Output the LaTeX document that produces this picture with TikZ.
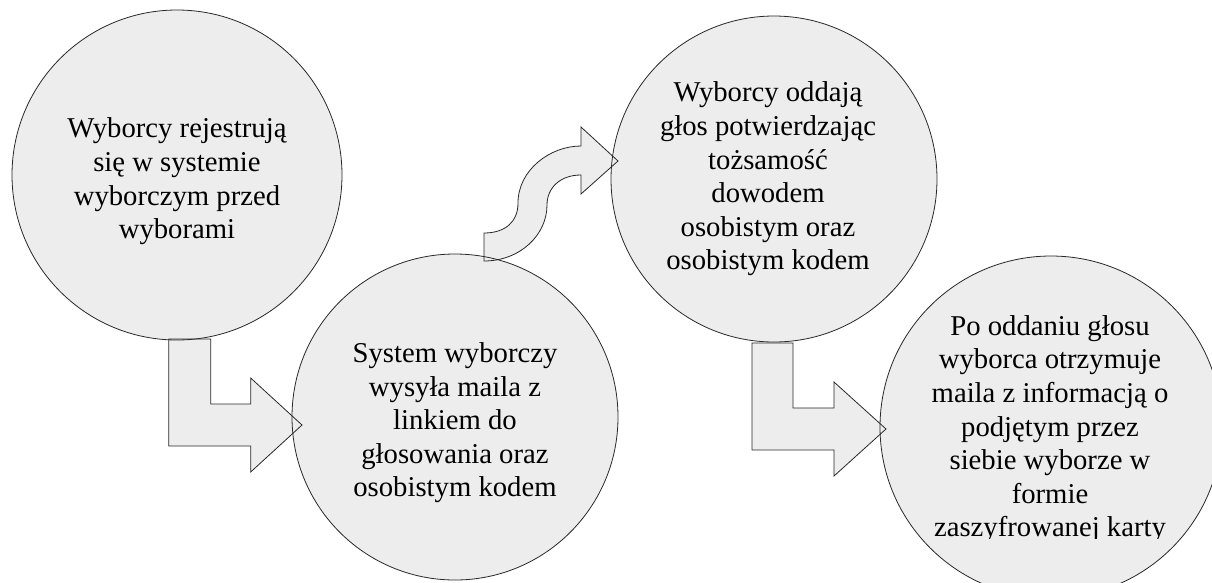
\documentclass[tikz,border=0pt]{standalone}
\usepackage{fontspec}
\setmainfont{Liberation Serif}
\definecolor{fillc}{RGB}{237,237,237}
\definecolor{linec}{RGB}{40,40,40}
\begin{document}
\begin{tikzpicture}[x=1pt,y=-1pt,
  disc/.style={fill=fillc},
  rim/.style={draw=linec,line width=0.8pt},
  blockarrow/.style={fill=fillc,draw=linec,line width=0.8pt,line join=miter},
  circletext/.style={align=center,font=\fontsize{28.7}{33.6}\selectfont,inner sep=0pt,text=black}]
\useasboundingbox (0,0) rectangle (1212,582);
\clip (0,0) rectangle (1212,582);
\coordinate (c1) at (177,175);
\coordinate (c2) at (455,417);
\coordinate (c3) at (774,179);
\coordinate (c4) at (1051,427);
\foreach \c/\r in {c1/165,c2/163,c3/163,c4/171} \path[disc] (\c) circle[radius=\r pt];
% L-shaped arrow 1
\draw[blockarrow] (168.7,339) -- (210.7,339) -- (210.7,404) -- (250.7,404) -- (250.7,378)
  -- (302,425) -- (250.7,472) -- (250.7,446) -- (168.7,446) -- cycle;
% S-shaped arrow 2
\draw[blockarrow] (484,233) .. controls (505,233) and (518,222) .. (518,203)
  .. controls (518,170) and (550,146) .. (581,146) -- (581,127) -- (618,161) -- (581,194) -- (581,175)
  .. controls (560,175) and (547,188) .. (547,205)
  .. controls (547,235) and (520,261) .. (484,261) -- cycle;
% L-shaped arrow 3
\draw[blockarrow] (752,343) -- (793,343) -- (793,408) -- (834,408) -- (834,382)
  -- (886,429) -- (834,476) -- (834,450) -- (752,450) -- cycle;
\foreach \c/\r in {c1/165,c2/163,c3/163,c4/171} \draw[rim] (\c) circle[radius=\r pt];
\node[circletext] (t1) at (177,181.4) {Wyborcy rejestrują\\się w systemie\\wyborczym przed\\wyborami};
\node[circletext] (t2) at (455,422.9) {System wyborczy\\wysyła maila z\\linkiem do\\głosowania oraz\\osobistym kodem};
\node[circletext] (t3) at (768,179) {Wyborcy oddają\\głos potwierdzając\\tożsamość\\dowodem\\osobistym oraz\\osobistym kodem};
\begin{scope}
\clip (0,0) rectangle (1212,538);
\node[circletext] (t4) at (1050,429.2) {Po oddaniu głosu\\wyborca otrzymuje\\maila z informacją o\\podjętym przez\\siebie wyborze w\\formie\\zaszyfrowanej karty};
\end{scope}
\end{tikzpicture}
\end{document}
